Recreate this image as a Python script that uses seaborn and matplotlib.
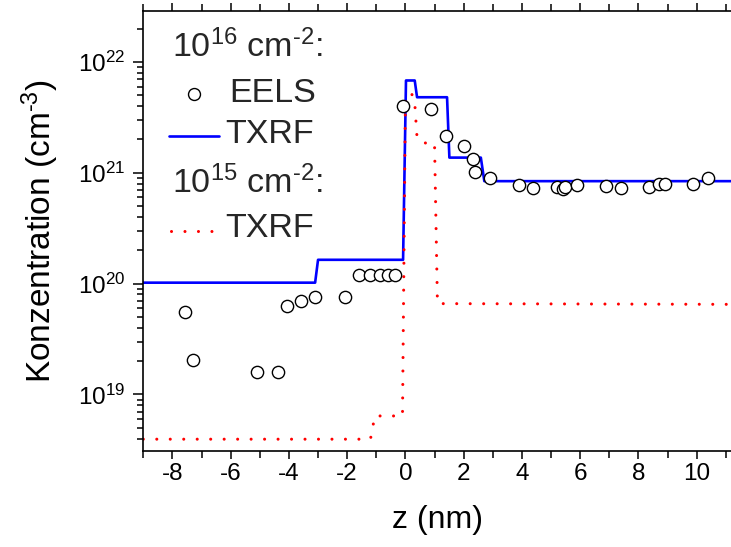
import numpy as np
import pandas as pd
import matplotlib
matplotlib.use("Agg")
import matplotlib.pyplot as plt
from matplotlib.ticker import LogLocator, LogFormatterMathtext, MultipleLocator, NullFormatter
import seaborn as sns

# ---- data ----
eels_z = [-7.57, -7.28, -5.08, -4.38, -4.08, -3.59, -3.09, -2.08,
          -1.60, -1.20, -0.88, -0.59, -0.37,
          -0.09, 0.89, 1.41, 2.00, 2.31, 2.40, 2.89,
          3.90, 4.39, 5.19, 5.41, 5.49, 5.89, 6.89, 7.39,
          8.38, 8.70, 8.91, 9.88, 10.38]
eels_c = [5.5e19, 2.05e19, 1.6e19, 1.6e19, 6.3e19, 7.0e19, 7.5e19, 7.5e19,
          1.2e20, 1.2e20, 1.2e20, 1.2e20, 1.2e20,
          4.0e21, 3.75e21, 2.13e21, 1.73e21, 1.32e21, 1.01e21, 9.05e20,
          7.75e20, 7.3e20, 7.45e20, 7.1e20, 7.5e20, 7.7e20, 7.65e20, 7.25e20,
          7.45e20, 7.95e20, 7.95e20, 8.0e20, 9.0e20]

txrf16_z = [-9.0, -3.1, -3.0, -0.08, 0.02, 0.32, 0.40, 1.43, 1.51, 2.59, 2.71, 11.2]
txrf16_c = [1.02e20, 1.02e20, 1.64e20, 1.64e20, 6.8e21, 6.8e21, 4.8e21, 4.8e21,
            1.37e21, 1.37e21, 8.4e20, 8.4e20]

txrf15_z = [-9.0, -1.2, -1.05, -0.1, 0.0, 0.2, 0.32, 0.37, 0.4, 0.62, 1.0, 1.1, 11.2]
txrf15_c = [3.95e18, 3.95e18, 6.4e18, 6.4e18, 4.6e21, 5.3e21, 4.3e21, 2.7e21,
            2.06e21, 1.86e21, 1.84e21, 6.6e19, 6.5e19]

x_ticks = [-8, -6, -4, -2, 0, 2, 4, 6, 8, 10]

# ---- style ----
sns.set_theme(style="ticks")
plt.rcParams["font.family"] = ["Liberation Sans", "DejaVu Sans"]
plt.rcParams["mathtext.fontset"] = "custom"
plt.rcParams["mathtext.rm"] = "Liberation Sans"
plt.rcParams["mathtext.it"] = "Liberation Sans:italic"
plt.rcParams["mathtext.bf"] = "Liberation Sans:bold"
plt.rcParams["axes.unicode_minus"] = False

W, H = 731, 547
fig = plt.figure(figsize=(W / 100, H / 100), dpi=100)
ax_l, ax_t, ax_r, ax_b = 143.3, 10.7, 731.0, 451.0
ax = fig.add_axes([ax_l / W, 1 - ax_b / H, (ax_r - ax_l) / W, (ax_b - ax_t) / H])

df16 = pd.DataFrame({"z": txrf16_z, "c": txrf16_c})
df15 = pd.DataFrame({"z": txrf15_z, "c": txrf15_c})
dfe = pd.DataFrame({"z": eels_z, "c": eels_c})

DOTS = (0.01, 4.4)

sns.lineplot(data=df16, x="z", y="c", ax=ax, color="#0000FF", linewidth=1.9,
             estimator=None, sort=False, zorder=2)
sns.lineplot(data=df15, x="z", y="c", ax=ax, color="#FF0000", linewidth=2.2,
             estimator=None, sort=False, zorder=2)
red_line = ax.lines[-1]
red_line.set_dashes(DOTS)
red_line.set_dash_capstyle("round")
sns.scatterplot(data=dfe, x="z", y="c", ax=ax, s=78, facecolor="white",
                edgecolor="black", linewidth=1.0, zorder=3)

ax.set_yscale("log")
ax.set_xlim(-9, 11.18)
ax.set_ylim(10 ** 18.49, 10 ** 22.462)

ax.xaxis.set_major_locator(plt.FixedLocator(x_ticks))
ax.xaxis.set_minor_locator(MultipleLocator(1))
ax.yaxis.set_major_locator(LogLocator(base=10, numticks=10))
ax.yaxis.set_minor_locator(LogLocator(base=10, subs=np.arange(2, 10), numticks=20))
ax.yaxis.set_major_formatter(LogFormatterMathtext())
ax.yaxis.set_minor_formatter(NullFormatter())

for s in ["left", "bottom", "top"]:
    ax.spines[s].set_linewidth(1.2)
    ax.spines[s].set_color("black")
ax.spines["right"].set_visible(False)

ax.tick_params(axis="both", which="both", direction="out", color="black", width=1.1,
               labelsize=17.5, labelcolor="black")
ax.tick_params(axis="x", which="major", length=6, pad=3)
ax.tick_params(axis="x", which="minor", length=5)
ax.tick_params(axis="y", which="major", length=7, pad=6)
ax.tick_params(axis="y", which="minor", length=4.5)
ax.tick_params(axis="x", which="both", top=True)

ax.set_xlabel("z (nm)", fontsize=23, labelpad=14, color="black")
ax.set_ylabel(r"Konzentration (cm$^{\text{-}3}$)", fontsize=24, labelpad=12, color="black")

# ---- legend block (drawn manually in axes coordinates) ----
def axc(px, py):
    return ((px - ax_l) / (ax_r - ax_l), (ax_b - py) / (ax_b - ax_t))

fs = 24.5
tr = ax.transAxes
x0, y0 = axc(172, 57)
ax.text(x0, y0, r"10$^{16}$ cm$^{\text{-}2}$:", transform=tr, fontsize=fs, va="baseline", ha="left")
mx, my = axc(194, 94)
ax.plot([mx], [my], "o", transform=tr, ms=8.6, mfc="white", mec="black", mew=1.0, clip_on=False)
x0, y0 = axc(229, 101.7)
ax.text(x0, y0, "EELS", transform=tr, fontsize=fs, va="baseline", ha="left")
lx0, ly = axc(169, 136)
lx1, _ = axc(219, 136)
ax.plot([lx0, lx1], [ly, ly], transform=tr, color="#0000FF", lw=1.9)
x0, y0 = axc(225, 143.3)
ax.text(x0, y0, "TXRF", transform=tr, fontsize=fs, va="baseline", ha="left")
x0, y0 = axc(172, 193.3)
ax.text(x0, y0, r"10$^{15}$ cm$^{\text{-}2}$:", transform=tr, fontsize=fs, va="baseline", ha="left")
lx0, ly = axc(171, 231)
lx1, _ = axc(221, 231)
leg_red, = ax.plot([lx0, lx1], [ly, ly], transform=tr, color="#FF0000", lw=2.2)
leg_red.set_dashes(DOTS)
leg_red.set_dash_capstyle("round")
x0, y0 = axc(225, 236.7)
ax.text(x0, y0, "TXRF", transform=tr, fontsize=fs, va="baseline", ha="left")

fig.savefig("out.png", dpi=100)
